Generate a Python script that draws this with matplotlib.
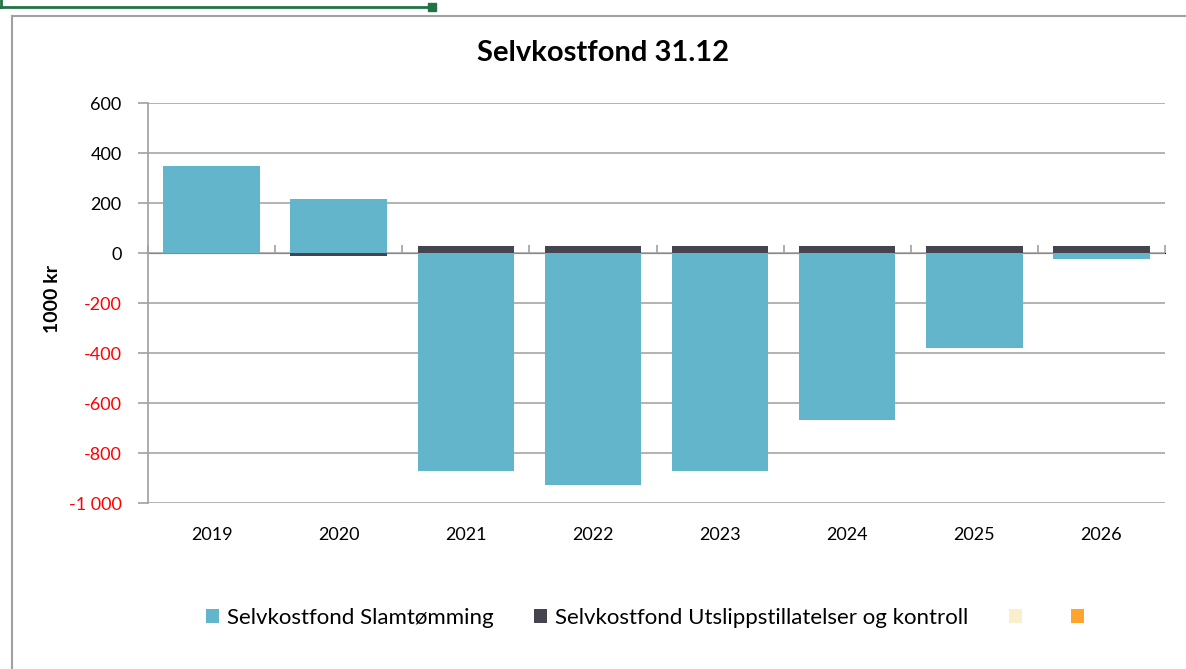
import numpy as np
import matplotlib
matplotlib.use("Agg")
import matplotlib.pyplot as plt
from matplotlib.patches import Patch
from matplotlib.lines import Line2D
from matplotlib.ticker import FuncFormatter

plt.rcParams['font.family'] = ['Lato', 'DejaVu Sans']

# data (1000 kr)
years = ['2019', '2020', '2021', '2022', '2023', '2024', '2025', '2026']
slamtomming = [350, 217, -873, -926, -873, -669, -379, -23]
utslipp = [0, -10, 27, 27, 27, 27, 27, 27]
series_names = ['Selvkostfond Slamtømming',
                'Selvkostfond Utslippstillatelser og kontroll', '', '']
colors = ['#62B5CB', '#46454F', '#FAEFCB', '#FFA52E']
yticks = [600, 400, 200, 0, -200, -400, -600, -800, -1000]

fig = plt.figure(figsize=(11.86, 6.69), dpi=100)
ax = fig.add_axes([148/1186, 1-503/669, (1165-148)/1186, 400/669])

x = np.arange(len(years))
s1 = np.array(slamtomming, dtype=float)
s2 = np.array(utslipp, dtype=float)
# excel stacks positives and negatives separately
bottom2 = np.where(np.sign(s2) == np.sign(s1), s1, 0)
w = 0.76
ax.bar(x, s1, width=w, color=colors[0], zorder=3)
ax.bar(x, s2, width=w, bottom=bottom2, color=colors[1], zorder=3)

ax.set_xlim(-0.5, len(years) - 0.5)
ax.set_ylim(-1000, 600)
ax.set_yticks(yticks)

def fmt(v, pos):
    s = '{:,.0f}'.format(v).replace(',', ' ')
    return s
ax.yaxis.set_major_formatter(FuncFormatter(fmt))
ax.tick_params(axis='y', direction='out', length=7, color='#A0A0A0',
               labelsize=13, pad=12, width=1.2)
for lab, v in zip(ax.get_yticklabels(), yticks):
    lab.set_color('#FF0000' if v < 0 else '#000000')

ax.set_xticks(x)
ax.set_xticklabels(years)
ax.tick_params(axis='x', length=0, labelsize=13, pad=17)

ax.grid(axis='y', color='#A6A6A6', lw=1.2, zorder=0)
for sp in ['top', 'right', 'bottom']:
    ax.spines[sp].set_visible(False)
ax.spines['left'].set_color('#A0A0A0')
ax.spines['left'].set_linewidth(1.2)

# horizontal axis crossing at zero with tick marks between categories
zero_pos = (0 - (-1000)) / 1600
sec = ax.secondary_xaxis(zero_pos)
sec.set_xticks(np.arange(len(years) + 1) - 0.5)
sec.set_xticklabels([])
sec.tick_params(direction='out', length=6, color='#A0A0A0', width=1.2)
sec.spines['bottom'].set_color('#999999')
sec.spines['bottom'].set_linewidth(1.4)

ax.set_ylabel('1000 kr', fontsize=14, fontweight='bold')
ax.yaxis.set_label_coords(-0.086, 0.51)

fig.text(603/1186, 1-53/669, 'Selvkostfond 31.12', fontsize=21,
         fontweight='bold', ha='center', va='center')

handles = [Patch(facecolor=c) for c in colors]
fig.legend(handles, series_names, loc='center', ncol=4,
           bbox_to_anchor=(649/1186, 1-618/669), frameon=False,
           fontsize=16, handlelength=0.58, handleheight=0.58,
           handletextpad=0.36, columnspacing=1.85)

# chart frame and excel selection line
fig.add_artist(Line2D([12/1186, 12/1186], [0, 1-16/669],
                      transform=fig.transFigure, color='#A0A0A0', lw=1.5))
fig.add_artist(Line2D([12/1186, 1], [1-16/669, 1-16/669],
                      transform=fig.transFigure, color='#A0A0A0', lw=1.5))
fig.add_artist(Line2D([0, 432/1186], [1-7/669, 1-7/669],
                      transform=fig.transFigure, color='#217346', lw=2))
fig.add_artist(Line2D([1/1186, 1/1186], [1-7/669, 1],
                      transform=fig.transFigure, color='#217346', lw=2))
fig.add_artist(Line2D([432/1186], [1-7/669], transform=fig.transFigure,
                      marker='s', markersize=6, color='#217346'))

fig.savefig('out.png', dpi=100)
